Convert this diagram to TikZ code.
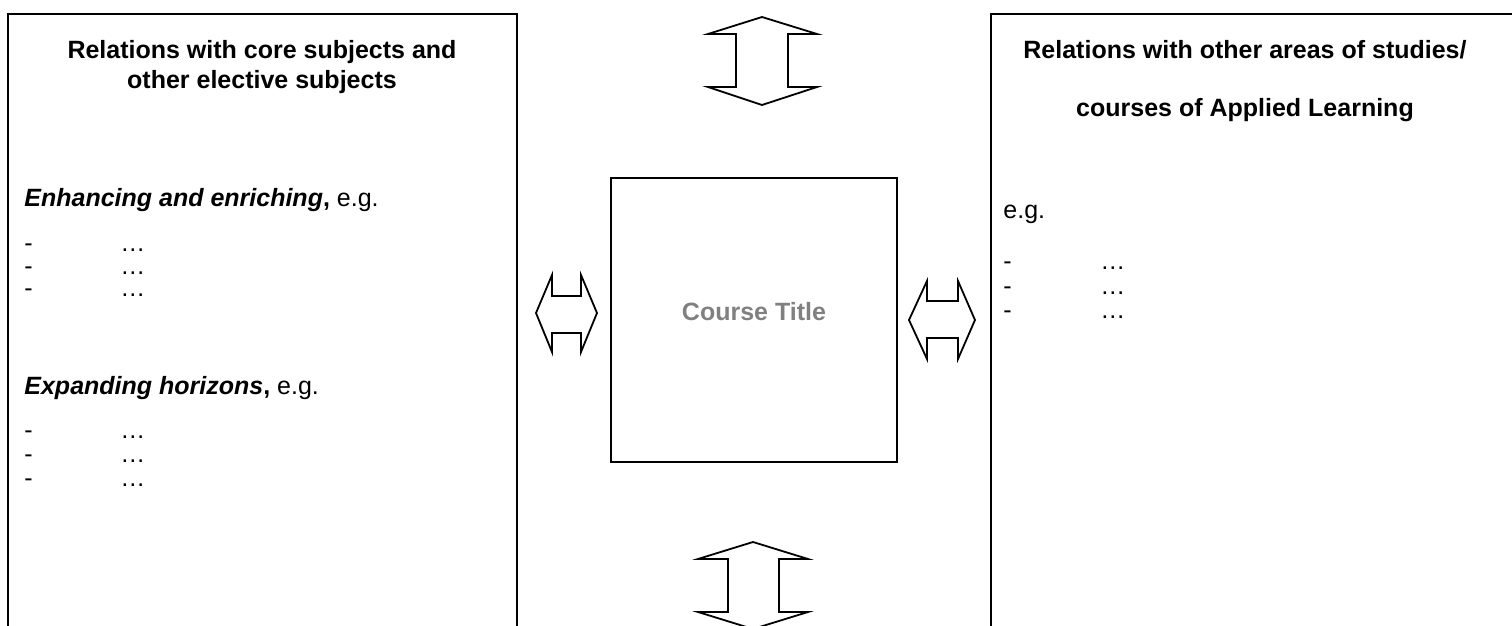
\documentclass[tikz,border=0pt]{standalone}
\usepackage{fontspec}
\setmainfont{Liberation Sans}
\definecolor{titlegray}{RGB}{128,128,128}

\begin{document}
\begin{tikzpicture}[x=0.5pt, y=-0.5pt, line join=miter]
			\tikzstyle{every node}=[inner sep=0pt, font=\fontsize{12.5}{15}\selectfont]
			\tikzstyle{box}=[draw, line width=1pt]
			\tikzstyle{blockarrow}=[draw, line width=0.9pt, fill=white]
			\tikzstyle{heading}=[anchor=base, font=\fontsize{12.5}{15}\selectfont\bfseries]
			\tikzstyle{item}=[anchor=base west]
			\useasboundingbox (0,0) rectangle (1512,626);
			\clip (0,0) rectangle (1512,626);

			% the three boxes
			\draw[box] (8,14) rectangle (517,660);
			\draw[box] (611,178) rectangle (897,462);
			\draw[box] (991,14) rectangle (1516,660);

			% left box
			\node[heading] (core1) at (262,59) {Relations with core subjects and};
			\node[heading] (core2) at (262,89) {other elective subjects};
			\node[item] (enh) at (24,206) {{\bfseries\itshape Enhancing and enriching}{\bfseries ,} e.g.};
			\node[item] (enhdash1) at (24,251) {-};
			\node[item] (enhdots1) at (120,251) {…};
			\node[item] (enhdash2) at (24,274) {-};
			\node[item] (enhdots2) at (120,274) {…};
			\node[item] (enhdash3) at (24,297) {-};
			\node[item] (enhdots3) at (120,297) {…};
			\node[item] (exp) at (24,394) {{\bfseries\itshape Expanding horizons}{\bfseries ,} e.g.};
			\node[item] (expdash1) at (24,438) {-};
			\node[item] (expdots1) at (120,438) {…};
			\node[item] (expdash2) at (24,462) {-};
			\node[item] (expdots2) at (120,462) {…};
			\node[item] (expdash3) at (24,486) {-};
			\node[item] (expdots3) at (120,486) {…};

			% centre box
			\node[heading, text=titlegray] (course) at (754,321) {Course Title};

			% right box
			\node[heading] (other1) at (1245,59) {Relations with other areas of studies/};
			\node[heading] (other2) at (1245,117) {courses of Applied Learning};
			\node[item] (eg) at (1003,219) {e.g.};
			\node[item] (othdash1) at (1003,270) {-};
			\node[item] (othdots1) at (1100,270) {…};
			\node[item] (othdash2) at (1003,294) {-};
			\node[item] (othdots2) at (1100,294) {…};
			\node[item] (othdash3) at (1003,318) {-};
			\node[item] (othdots3) at (1100,318) {…};

			% block arrows
			\draw[blockarrow] (762,17) -- (817,34) -- (788,34) -- (788,87) -- (817,87) -- (762,105)
				-- (708,87) -- (736,87) -- (736,34) -- (708,34) -- cycle;
			\draw[blockarrow] (753,542) -- (808,559) -- (779,559) -- (779,612) -- (808,612) -- (753,629)
				-- (698,612) -- (728,612) -- (728,559) -- (698,559) -- cycle;
			\draw[blockarrow] (536,313) -- (552,275) -- (552,296) -- (581,296) -- (581,275) -- (597,313)
				-- (581,352) -- (581,333) -- (552,333) -- (552,352) -- cycle;
			\draw[blockarrow] (909,320) -- (927,281) -- (927,301) -- (958,301) -- (958,281) -- (975,320)
				-- (958,359) -- (958,338) -- (927,338) -- (927,359) -- cycle;
		\end{tikzpicture}
\end{document}
